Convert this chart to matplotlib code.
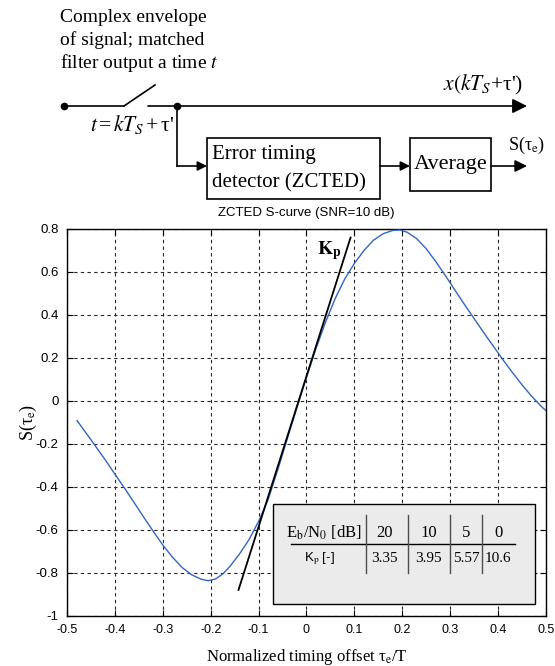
import numpy as np
import matplotlib
matplotlib.use('Agg')
import matplotlib.pyplot as plt
from matplotlib.patches import Rectangle

plt.rcParams['axes.unicode_minus'] = False
plt.rcParams['mathtext.fontset'] = 'stix'

SERIF = 'Liberation Serif'
SANS = 'Liberation Sans'

# S-curve (SNR = 10 dB)
tau = [-0.479, -0.445, -0.42, -0.40, -0.38, -0.36, -0.34, -0.32, -0.30, -0.28,
       -0.26, -0.24, -0.22, -0.205, -0.19, -0.175, -0.16, -0.14, -0.12, -0.10,
       -0.08, -0.06, -0.04, -0.02, 0.0, 0.02, 0.04, 0.06, 0.08, 0.10,
       0.12, 0.14, 0.16, 0.18, 0.195, 0.21, 0.23, 0.25, 0.27, 0.29,
       0.31, 0.33, 0.35, 0.37, 0.39, 0.41, 0.43, 0.45, 0.47, 0.49, 0.50]
s_curve = [-0.091, -0.196, -0.274, -0.340, -0.405, -0.472, -0.540, -0.606, -0.670, -0.726,
           -0.774, -0.808, -0.829, -0.836, -0.828, -0.805, -0.770, -0.712, -0.645, -0.560,
           -0.458, -0.320, -0.175, -0.032, 0.110, 0.245, 0.368, 0.477, 0.568, 0.640,
           0.700, 0.748, 0.778, 0.793, 0.795, 0.785, 0.755, 0.708, 0.648, 0.583,
           0.515, 0.448, 0.383, 0.318, 0.255, 0.192, 0.132, 0.075, 0.022, -0.025, -0.045]

# tangent at the zero crossing (slope Kp)
kp_line_x = [-0.142, 0.092]
kp_line_y = [-0.879, 0.76]

# table in the plot
ebn0 = ['20', '10', '5', '0']
kp = ['3.35', '3.95', '5.57', '10.6']

x_ticks = [-0.5, -0.4, -0.3, -0.2, -0.1, 0, 0.1, 0.2, 0.3, 0.4, 0.5]
x_labels = ['-0.5', '-0.4', '-0.3', '-0.2', '-0.1', '0', '0.1', '0.2', '0.3', '0.4', '0.5']
y_ticks = [-1, -0.8, -0.6, -0.4, -0.2, 0, 0.2, 0.4, 0.6, 0.8]
y_labels = ['-1', '-0.8', '-0.6', '-0.4', '-0.2', '0', '0.2', '0.4', '0.6', '0.8']

fig = plt.figure(figsize=(5.55, 6.66), dpi=100)

# ---- block diagram (figure pixel coordinates) ----
d = fig.add_axes([0, 0, 1, 1])
d.set_xlim(0, 555)
d.set_ylim(666, 0)
d.axis('off')

lw = 1.2
d.text(60, 17, 'Complex envelope', family=SERIF, fontsize=14, va='center')
d.text(60, 40, 'of signal; matched', family=SERIF, fontsize=14, va='center')
d.text(60, 63, 'filter output a time $t$', family=SERIF, fontsize=14, va='center')

d.plot([64, 124], [106, 106], color='k', lw=lw)
d.plot([124, 155], [106, 85], color='k', lw=lw)
d.plot([64], [106], 'o', color='k', ms=4.5)
d.plot([177], [106], 'o', color='k', ms=4.5)
d.annotate('', xy=(527, 106), xytext=(148, 106),
           arrowprops=dict(arrowstyle='-|>', color='k', lw=lw, mutation_scale=22,
                           shrinkA=0, shrinkB=0))
d.text(523, 85, r"$x(kT_S$+τ')", family=SERIF, fontsize=15.5, ha='right', va='center')
d.text(174, 125, r"$t\,$=$\,kT_S\,$+$\,$τ'", family=SERIF, fontsize=15.5, ha='right', va='center')

d.plot([177, 177], [106, 166], color='k', lw=lw)
d.annotate('', xy=(207, 166), xytext=(177, 166),
           arrowprops=dict(arrowstyle='-|>', color='k', lw=lw, mutation_scale=14,
                           shrinkA=0, shrinkB=0))
d.add_patch(Rectangle((207, 138), 173, 61, fill=False, ec='k', lw=lw))
d.text(212, 155, 'Error timing', family=SERIF, fontsize=15, va='center')
d.text(212, 183, 'detector (ZCTED)', family=SERIF, fontsize=15, va='center')

d.annotate('', xy=(410, 166), xytext=(380, 166),
           arrowprops=dict(arrowstyle='-|>', color='k', lw=lw, mutation_scale=14,
                           shrinkA=0, shrinkB=0))
d.add_patch(Rectangle((410, 138), 81, 53, fill=False, ec='k', lw=lw))
d.text(451, 165, 'Average', family=SERIF, fontsize=16, ha='center', va='center')
d.annotate('', xy=(527, 166), xytext=(491, 166),
           arrowprops=dict(arrowstyle='-|>', color='k', lw=lw, mutation_scale=18,
                           shrinkA=0, shrinkB=0))
d.text(527, 145, r'S(τ$_{\rm e}$)', family=SERIF, fontsize=13, ha='center', va='center')

# ---- S-curve plot ----
ax = fig.add_axes([0.1207, 0.0751, 0.8631, 0.5811])
ax.plot(tau, s_curve, color='#3365c2', lw=1.0, zorder=3)
ax.plot(kp_line_x, kp_line_y, color='k', lw=1.3, zorder=4)
ax.text(0.048, 0.70, r'$\mathbf{K_p}$', fontsize=14, ha='center', va='center', zorder=5)

ax.set_xlim(-0.5, 0.5)
ax.set_ylim(-1, 0.8)
ax.set_xticks(x_ticks)
ax.set_xticklabels(x_labels, family=SANS, fontsize=9)
ax.set_yticks(y_ticks)
ax.set_yticklabels(y_labels, family=SANS, fontsize=9.5)
ax.tick_params(direction='in', length=4, width=0.8, top=True, right=True, pad=6)
ax.grid(True, color='0.15', ls=(0, (3, 3)), lw=0.8)
for sp in ax.spines.values():
    sp.set_linewidth(1.0)

ax.set_title('ZCTED S-curve (SNR=10 dB)', family=SANS, fontsize=9.5, pad=9)
ax.set_xlabel(r'Normalized timing offset τ$_{\rm e}$/T', family=SERIF, fontsize=12, labelpad=8)
ax.set_ylabel(r'S(τ$_{\rm e}$)', family=SERIF, fontsize=13, labelpad=-2)

# table box
ax.add_patch(Rectangle((-0.070, -0.944), 0.547, 0.465, fc='#ebebeb', ec='k', lw=1.0, zorder=6))
ax.plot([-0.032, 0.436], [-0.665, -0.665], color='k', lw=1.0, zorder=7)
for xv in [0.124, 0.211, 0.300, 0.367]:
    ax.plot([xv, xv], [-0.530, -0.800], color='0.3', lw=1.0, zorder=7)
ax.text(0.036, -0.612, r'E$_{\rm b}$/N$_0$ [dB]', family=SERIF, fontsize=12,
        ha='center', va='center', zorder=8)
ax.text(0.026, -0.732, r'K$_{\rm p}$ [-]', family=SANS, fontsize=9.5,
        ha='center', va='center', zorder=8)
col_x = [0.163, 0.255, 0.334, 0.400]
for cx, e, k in zip(col_x, ebn0, kp):
    ax.text(cx, -0.612, e, family=SERIF, fontsize=12, ha='center', va='center', zorder=8)
    ax.text(cx, -0.732, k, family=SERIF, fontsize=11, ha='center', va='center', zorder=8)

fig.savefig('out.png', dpi=100)
